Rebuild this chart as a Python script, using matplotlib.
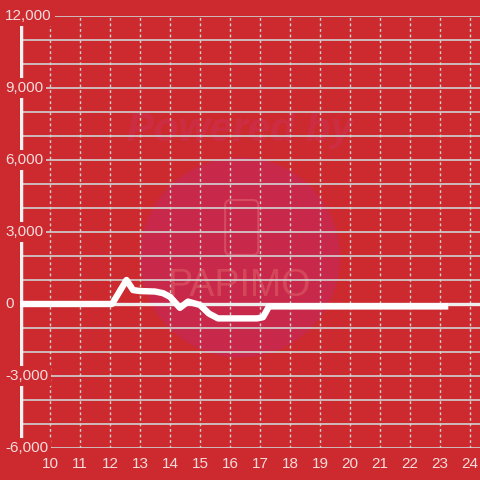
import matplotlib
matplotlib.use("Agg")
import matplotlib.pyplot as plt
from matplotlib.patches import Ellipse, FancyBboxPatch
from matplotlib.transforms import blended_transform_factory

# hourly values
hours = [9.0, 12.07, 12.55, 12.77, 13.0, 13.5, 13.77, 14.0, 14.33, 14.6,
         15.0, 15.3, 15.6, 16.9, 17.1, 17.3, 23.17]
values = [0, 0, 1000, 580, 540, 520, 450, 300, -160, 100,
          -40, -400, -600, -600, -550, -100, -100]

x_ticks = list(range(10, 25))
y_ticks = [-6000, -3000, 0, 3000, 6000, 9000, 12000]
y_labels = ["-6,000", "-3,000", "0", "3,000", "6,000", "9,000", "12,000"]

bg = "#cc2a2f"
txt = "#f6dcdc"
grid = "#d2d2d2"

plt.rcParams['font.family'] = ['Liberation Sans', 'DejaVu Sans']

fig = plt.figure(figsize=(4.8, 4.8), dpi=100, facecolor=bg)
ax = fig.add_axes([20 / 480, 32 / 480, 460 / 480, 432 / 480])
ax.set_facecolor(bg)
ax.set_axisbelow(True)

ax.set_xlim(9, 9 + 460 / 30)
ax.set_ylim(-6000, 12000)

# watermark
ax.add_patch(Ellipse((0.4783, 0.441), 200 / 460, 200 / 432, transform=ax.transAxes,
                     facecolor="#c8284a", edgecolor="none", zorder=0.2))
ax.text(0.478, 0.736, "Powered by", transform=ax.transAxes, ha="center", va="center",
        fontsize=29, fontweight="bold", style="italic", color="#cf3050", alpha=0.6, zorder=0.3)
ax.add_patch(FancyBboxPatch((0.446, 0.447), 0.072, 0.127, boxstyle="round,pad=0,rounding_size=0.012",
                            transform=ax.transAxes, facecolor="none", edgecolor="#d64a62",
                            lw=1.5, zorder=0.3))
ax.text(0.478, 0.375, "PAPIMO", transform=ax.transAxes, ha="center", va="center",
        fontsize=27, color="#d85060", alpha=0.8, zorder=0.3)

ax.set_yticks(range(-6000, 12001, 1000))
ax.set_xticks(x_ticks)
ax.grid(axis="y", color=grid, lw=1.2)
ax.grid(axis="x", color=grid, lw=1, linestyle=(0, (2, 2)))
ax.tick_params(left=False, bottom=False, labelleft=False, labelsize=11,
               labelcolor=txt, pad=3)
for s in ax.spines.values():
    s.set_visible(False)

# zero line and y axis line
ax.axhline(0, color="#eeeeee", lw=2.4, zorder=2)
ax.axvline(9.03, color="#f2f2f2", lw=2.5, zorder=2)

ax.plot(hours, values, color="white", lw=4.6, solid_joinstyle="round", zorder=3)

trans = blended_transform_factory(fig.transFigure, ax.transData)
for v, lab in zip(y_ticks, y_labels):
    fig.text(5 / 480, v, lab, transform=trans, ha="left", va="center", fontsize=11,
             color=txt, zorder=10,
             bbox=dict(boxstyle="square,pad=0.2", facecolor=bg, edgecolor="none"))

fig.savefig("out.png", dpi=100, facecolor=bg)
